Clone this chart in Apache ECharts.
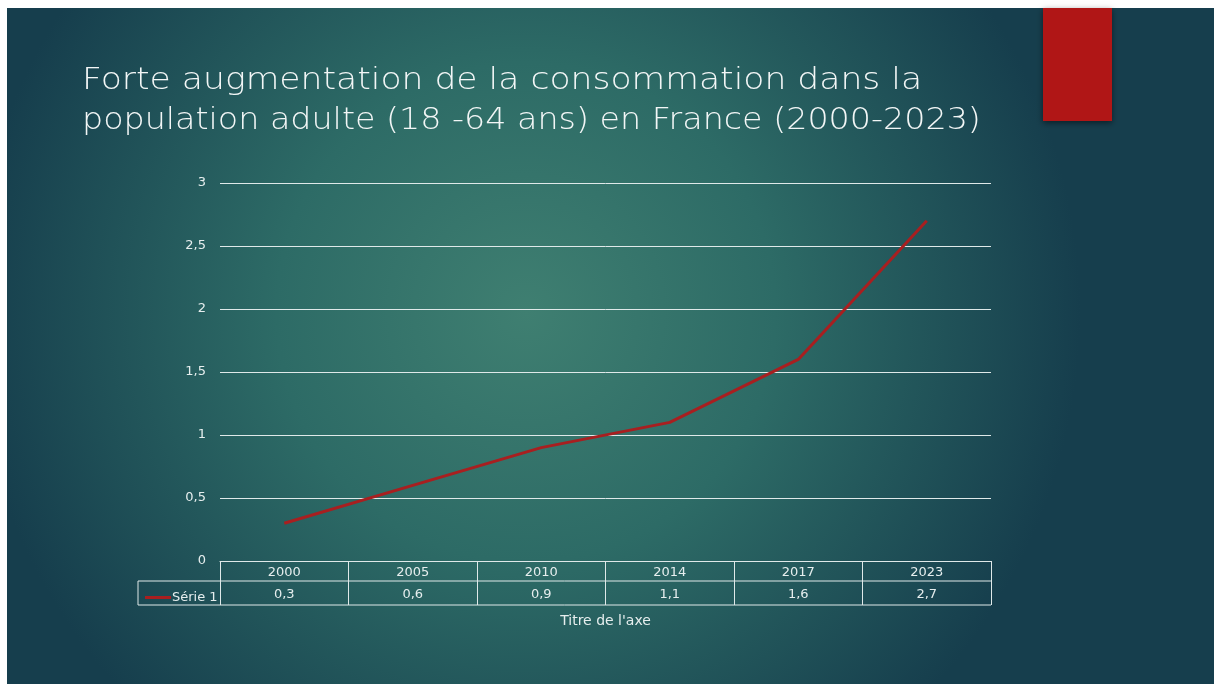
<!DOCTYPE html>
<html>
<head>
<meta charset="utf-8">
<script src="https://cdn.jsdelivr.net/npm/echarts@6/dist/echarts.min.js"></script>
<style>
  html, body { margin: 0; padding: 0; background: #fff; }
  #chart { width: 1214px; height: 684px; }
</style>
</head>
<body>
<div id="chart"></div>
<script>
const years = ["2000", "2005", "2010", "2014", "2017", "2023"];
const serie1 = [0.3, 0.6, 0.9, 1.1, 1.6, 2.7];
const serieName = "Série 1";
const titleLines = [
  "Forte augmentation de la consommation dans la",
  "population adulte (18 -64 ans) en France (2000-2023)"
];

const txt = "#e6eeee";
const lineCol = "#dfe9e9";
const red = "#a81f20";
const fr = v => String(v).replace(".", ",");

const chart = echarts.init(document.getElementById("chart"));

const option = {
  backgroundColor: "#ffffff",
  textStyle: { fontFamily: "DejaVu Sans" },
  grid: { left: 220, right: 223, top: 183, bottom: 123 },
  legend: {
    data: [serieName],
    left: 140,
    top: 586,
    icon: "rect",
    itemWidth: 26,
    itemHeight: 3,
    itemGap: 0,
    textStyle: { color: txt, fontSize: 13, padding: [0, 0, 0, -4] }
  },
  xAxis: {
    type: "category",
    data: years,
    boundaryGap: true,
    name: "Titre de l'axe",
    nameLocation: "middle",
    nameGap: 53,
    nameTextStyle: { color: txt, fontSize: 14 },
    axisLine: { show: true, lineStyle: { color: lineCol, width: 1 } },
    axisTick: { show: true, length: 44, lineStyle: { color: lineCol, width: 1 } },
    axisLabel: {
      margin: 2,
      formatter: (v, i) => "{y|" + v + "}\n{v|" + fr(serie1[i]) + "}",
      rich: {
        y: { color: txt, fontSize: 13, lineHeight: 20 },
        v: { color: txt, fontSize: 13, lineHeight: 24 }
      }
    }
  },
  yAxis: {
    type: "value",
    min: 0,
    max: 3,
    interval: 0.5,
    axisLine: { show: false },
    axisTick: { show: false },
    axisLabel: { color: txt, fontSize: 13, margin: 14, formatter: fr },
    splitLine: { lineStyle: { color: lineCol, width: 1 } }
  },
  series: [{
    name: serieName,
    type: "line",
    data: serie1,
    symbol: "none",
    itemStyle: { color: red },
    lineStyle: { color: red, width: 3 }
  }]
};

chart.setOption(option);

// slide background, red tab, title, table rows
const x0 = chart.convertToPixel({ xAxisIndex: 0 }, years[0]);
const colW = chart.convertToPixel({ xAxisIndex: 0 }, years[1]) - x0;
const left = x0 - colW / 2;
const right = left + colW * years.length;
const y0 = chart.convertToPixel({ yAxisIndex: 0 }, 0);
const legLeft = 138;
const titleFont = "200 31px 'DejaVu Sans'";

chart.setOption({
  graphic: [
    {
      type: "rect", z: -100, silent: true,
      shape: { x: 7, y: 8, width: 1207, height: 676 },
      style: {
        fill: new echarts.graphic.RadialGradient(0.43, 0.45, 0.82, [
          { offset: 0, color: "#3f7f71" },
          { offset: 0.45, color: "#2d6b66" },
          { offset: 1, color: "#163e4d" }
        ])
      }
    },
    {
      type: "rect", z: 10, silent: true,
      shape: { x: 1043, y: 8, width: 69, height: 113 },
      style: { fill: "#b01616", shadowBlur: 6, shadowColor: "rgba(0,0,0,0.5)", shadowOffsetY: 2 }
    },
    {
      type: "text", z: 10, silent: true,
      x: 82, y: 65, scaleX: 1.115,
      style: { text: titleLines[0], fill: "#f2f6f6", font: titleFont }
    },
    {
      type: "text", z: 10, silent: true,
      x: 82, y: 105, scaleX: 1.075,
      style: { text: titleLines[1], fill: "#f2f6f6", font: titleFont }
    },
    {
      type: "line", z: 10, silent: true,
      shape: { x1: legLeft, y1: y0 + 20, x2: right, y2: y0 + 20 },
      style: { stroke: lineCol, lineWidth: 1 }
    },
    {
      type: "line", z: 10, silent: true,
      shape: { x1: legLeft, y1: y0 + 44, x2: right, y2: y0 + 44 },
      style: { stroke: lineCol, lineWidth: 1 }
    },
    {
      type: "line", z: 10, silent: true,
      shape: { x1: legLeft, y1: y0 + 20, x2: legLeft, y2: y0 + 44 },
      style: { stroke: lineCol, lineWidth: 1 }
    }
  ]
});
</script>
</body>
</html>
